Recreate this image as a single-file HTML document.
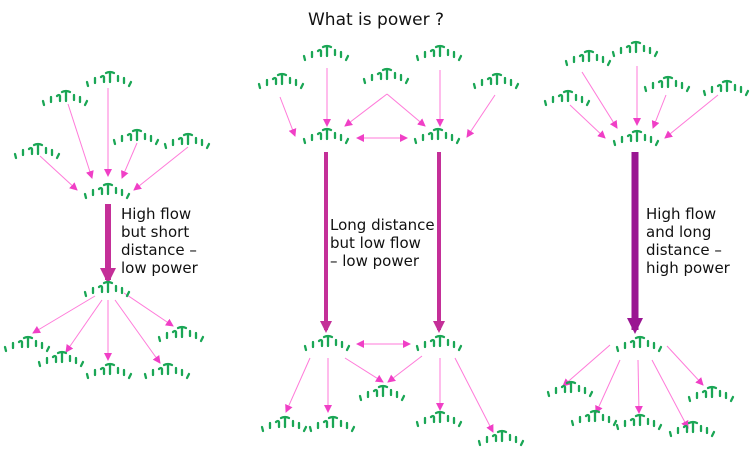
<!DOCTYPE html>
<html><head><meta charset="utf-8"><style>
html,body{margin:0;padding:0;background:#fff}
svg{display:block}
text{font-family:"DejaVu Sans","Liberation Sans",sans-serif;font-size:15px;fill:#111}
</style></head><body>
<svg width="753" height="453" viewBox="0 0 753 453" xmlns="http://www.w3.org/2000/svg">
<defs>
<g id="n" fill="none" stroke="#1aa655" stroke-width="2.3" stroke-linecap="round">
<path d="M-23,4 L-22,8"/>
<path d="M-15,0 L-15,5"/>
<path d="M-9,-1 q2,-2 3,0 v5"/>
<path d="M-4,-5 q4,-2 8,0 M0,-5 v9"/>
<path d="M8,-2 v5"/>
<path d="M14,0 L14,5"/>
<path d="M21,4 L19,8"/>
</g>
<marker id="a" markerWidth="8" markerHeight="8" refX="7" refY="4" orient="auto" markerUnits="userSpaceOnUse">
<path d="M0,0 L8,4 L0,8 Z" fill="#f03fc6"/></marker>
<marker id="as" markerWidth="8" markerHeight="8" refX="1" refY="4" orient="auto" markerUnits="userSpaceOnUse">
<path d="M8,0 L0,4 L8,8 Z" fill="#f03fc6"/></marker>
<marker id="b1" markerWidth="16" markerHeight="16" refX="12" refY="8" orient="auto" markerUnits="userSpaceOnUse">
<path d="M0,0 L16,8 L0,16 Z" fill="#c42f98"/></marker>
<marker id="b3" markerWidth="12" markerHeight="12" refX="9" refY="6" orient="auto" markerUnits="userSpaceOnUse">
<path d="M0,0 L12,6 L0,12 Z" fill="#c42f98"/></marker>
<marker id="b2" markerWidth="16" markerHeight="16" refX="12" refY="8" orient="auto" markerUnits="userSpaceOnUse">
<path d="M0,0 L16,8 L0,16 Z" fill="#9a1592"/></marker>
</defs>
<text x="376" y="25" text-anchor="middle" style="font-size:17px">What is power ?</text>

<!-- LEFT -->
<g stroke="#ff7ad9" stroke-width="1" marker-end="url(#a)">
<line x1="108" y1="88" x2="108" y2="176"/>
<line x1="68" y1="104" x2="92" y2="178"/>
<line x1="40" y1="156" x2="77" y2="190"/>
<line x1="137" y1="143" x2="122" y2="178"/>
<line x1="188" y1="147" x2="134" y2="190"/>
<line x1="95" y1="296" x2="33" y2="333"/>
<line x1="102" y1="300" x2="66" y2="352"/>
<line x1="108" y1="300" x2="108" y2="360"/>
<line x1="115" y1="300" x2="160" y2="363"/>
<line x1="124" y1="293" x2="173" y2="326"/>
</g>
<line x1="108" y1="204" x2="108" y2="280" stroke="#c42f98" stroke-width="6" marker-end="url(#b1)"/>
<use href="#n" x="110" y="78"/><use href="#n" x="66" y="97"/><use href="#n" x="38" y="150"/>
<use href="#n" x="137" y="136"/><use href="#n" x="188" y="140"/><use href="#n" x="108" y="190"/>
<use href="#n" x="108" y="288"/><use href="#n" x="28" y="343"/><use href="#n" x="62" y="358"/>
<use href="#n" x="110" y="370"/><use href="#n" x="168" y="370"/><use href="#n" x="182" y="333"/>
<text x="121" y="219">High flow</text><text x="121" y="237">but short</text>
<text x="121" y="255">distance –</text><text x="121" y="273">low power</text>

<!-- MIDDLE -->
<g stroke="#ff7ad9" stroke-width="1" marker-end="url(#a)">
<line x1="280" y1="97" x2="295" y2="136"/>
<line x1="327" y1="68" x2="327" y2="126"/>
<line x1="387" y1="94" x2="345" y2="126"/>
<line x1="387" y1="94" x2="425" y2="126"/>
<line x1="440" y1="70" x2="440" y2="126"/>
<line x1="495" y1="95" x2="467" y2="137"/>
<line x1="357" y1="138" x2="407" y2="138" marker-start="url(#as)"/>
<line x1="357" y1="344" x2="410" y2="344" marker-start="url(#as)"/>
<line x1="310" y1="358" x2="286" y2="412"/>
<line x1="328" y1="358" x2="328" y2="412"/>
<line x1="345" y1="358" x2="383" y2="382"/>
<line x1="422" y1="356" x2="388" y2="382"/>
<line x1="440" y1="358" x2="440" y2="410"/>
<line x1="455" y1="358" x2="493" y2="432"/>
</g>
<line x1="326" y1="152" x2="326" y2="330" stroke="#c42f98" stroke-width="4" marker-end="url(#b3)"/>
<line x1="439" y1="152" x2="439" y2="330" stroke="#c42f98" stroke-width="4" marker-end="url(#b3)"/>
<use href="#n" x="327" y="52"/><use href="#n" x="440" y="52"/><use href="#n" x="282" y="80"/>
<use href="#n" x="387" y="75"/><use href="#n" x="497" y="80"/>
<use href="#n" x="327" y="135"/><use href="#n" x="438" y="135"/>
<use href="#n" x="328" y="342"/><use href="#n" x="440" y="342"/><use href="#n" x="383" y="392"/>
<use href="#n" x="285" y="423"/><use href="#n" x="333" y="423"/><use href="#n" x="440" y="418"/><use href="#n" x="502" y="437"/>
<text x="330" y="230">Long distance</text><text x="330" y="248">but low flow</text><text x="330" y="266">– low power</text>

<!-- RIGHT -->
<g stroke="#ff7ad9" stroke-width="1" marker-end="url(#a)">
<line x1="582" y1="72" x2="617" y2="128"/>
<line x1="637" y1="66" x2="637" y2="125"/>
<line x1="666" y1="95" x2="653" y2="128"/>
<line x1="718" y1="95" x2="665" y2="138"/>
<line x1="570" y1="105" x2="605" y2="138"/>
<line x1="610" y1="345" x2="563" y2="386"/>
<line x1="620" y1="360" x2="596" y2="413"/>
<line x1="638" y1="360" x2="639" y2="413"/>
<line x1="652" y1="360" x2="688" y2="428"/>
<line x1="667" y1="346" x2="703" y2="385"/>
</g>
<line x1="635" y1="152" x2="635" y2="330" stroke="#9a1592" stroke-width="7" marker-end="url(#b2)"/>
<use href="#n" x="589" y="57"/><use href="#n" x="636" y="48"/><use href="#n" x="568" y="97"/>
<use href="#n" x="668" y="83"/><use href="#n" x="727" y="87"/><use href="#n" x="637" y="137"/>
<use href="#n" x="640" y="343"/><use href="#n" x="571" y="388"/><use href="#n" x="595" y="417"/>
<use href="#n" x="640" y="421"/><use href="#n" x="693" y="428"/><use href="#n" x="712" y="393"/>
<text x="646" y="219">High flow</text><text x="646" y="237">and long</text>
<text x="646" y="255">distance –</text><text x="646" y="273">high power</text>
</svg>
</body></html>
